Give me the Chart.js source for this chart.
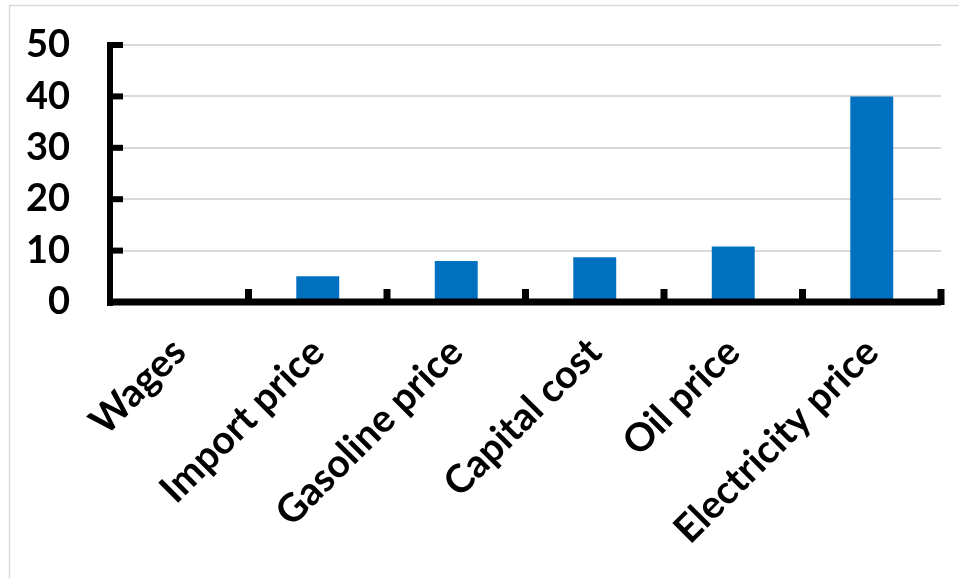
<!DOCTYPE html>
<html>
<head>
<meta charset="utf-8">
<style>
  html, body { margin: 0; padding: 0; background: #fff; }
  #wrap { width: 959px; height: 578px; position: relative; }
</style>
<script src="https://cdn.jsdelivr.net/npm/chart.js@4/dist/chart.umd.min.js"></script>
</head>
<body>
<div id="wrap"><canvas id="chart" width="959" height="578"></canvas></div>
<script>
// Drivers and their contribution
const categories = ['Wages', 'Import price', 'Gasoline price', 'Capital cost', 'Oil price', 'Electricity price'];
const values = [0, 5, 8, 8.7, 10.8, 40];
const yTickValues = [0, 10, 20, 30, 40, 50];

const FONT = 'Lato, "Liberation Sans", sans-serif';

// Light frame round the chart and the thick black axes with their tick marks
const frameAndAxes = {
  id: 'frameAndAxes',
  beforeDraw(chart) {
    const ctx = chart.ctx;
    ctx.save();
    ctx.strokeStyle = '#d9d9d9';
    ctx.lineWidth = 1.5;
    ctx.strokeRect(9.5, 5.5, 960, 580);
    ctx.restore();
  },
  afterDatasetsDraw(chart) {
    const ctx = chart.ctx;
    const x = chart.scales.x;
    const y = chart.scales.y;
    const y0 = y.getPixelForValue(0);
    const yTop = y.getPixelForValue(yTickValues[yTickValues.length - 1]);
    const left = x.left;
    const right = x.right;
    ctx.save();
    ctx.fillStyle = '#000';
    // vertical axis
    ctx.fillRect(left - 3, yTop - 2, 6, y0 - yTop + 6);
    // inward tick marks on the vertical axis
    yTickValues.forEach(v => {
      const py = y.getPixelForValue(v);
      ctx.fillRect(left - 3, py - 3, 16, 6);
    });
    // horizontal axis
    ctx.fillRect(left - 3, y0 - 3.5, right - left + 3, 7);
    // tick marks between categories
    for (let i = 0; i < categories.length; i++) {
      const px = x.getPixelForValue(i + 0.5);
      ctx.fillRect(px - 3.5, y0 - 13, 7, i === categories.length - 1 ? 16 : 13);
    }
    ctx.restore();
  }
};

new Chart(document.getElementById('chart'), {
  type: 'bar',
  data: {
    labels: categories,
    datasets: [{
      data: values,
      backgroundColor: '#0070C0',
      borderWidth: 0,
      barPercentage: 0.31,
      categoryPercentage: 1.0
    }]
  },
  options: {
    responsive: false,
    animation: false,
    layout: { padding: { left: 0, right: 18, top: 45, bottom: 0 } },
    plugins: {
      legend: { display: false },
      tooltip: { enabled: false }
    },
    scales: {
      x: {
        offset: true,
        grid: { display: false, drawTicks: false },
        border: { display: false },
        ticks: {
          color: '#000',
          font: { family: FONT, size: 39, weight: 'bold' },
          minRotation: 45,
          maxRotation: 45,
          padding: 27,
          autoSkip: false
        },
        afterFit(scale) { scale.height = 578 - 302; }
      },
      y: {
        min: 0,
        max: 50,
        grid: {
          color: '#d9d9d9',
          lineWidth: 2,
          drawTicks: true,
          tickLength: 40,
          tickColor: 'rgba(0,0,0,0)'
        },
        border: { display: false },
        ticks: {
          color: '#000',
          stepSize: 10,
          padding: 0,
          autoSkip: false,
          font: { family: FONT, size: 38, weight: 'bold' }
        },
        afterFit(scale) { scale.width = 110; }
      }
    }
  },
  plugins: [frameAndAxes]
});
</script>
</body>
</html>
